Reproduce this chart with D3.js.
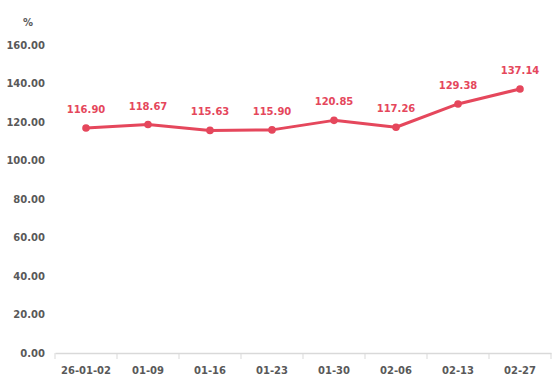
<!DOCTYPE html>
<html><head><meta charset="utf-8">
<script src="https://cdn.jsdelivr.net/npm/d3@7"></script>
<style>body{margin:0;background:#fff}</style>
</head><body><svg id="c" width="554" height="384"></svg>
<script>
const categories = ["26-01-02","01-09","01-16","01-23","01-30","02-06","02-13","02-27"];
const values = [116.90,118.67,115.63,115.90,120.85,117.26,129.38,137.14];
const yTicks = [0,20,40,60,80,100,120,140,160];
const unit = "%";

const svg = d3.select("#c");
const font = "DejaVu Sans, sans-serif";
const x = d3.scaleBand().domain(categories).range([55,551]);
const y = d3.scaleLinear().domain([0,160]).range([353,45]);
const red = "#e5475c";

// y labels
svg.selectAll(".yl").data(yTicks).enter().append("text")
  .attr("x",45).attr("y",d=>y(d)).attr("dy","0.35em")
  .attr("text-anchor","end").attr("font-family",font).attr("font-weight","bold")
  .attr("font-size","10px").attr("fill","#595959").text(d=>d.toFixed(2));
svg.append("text").attr("x",23).attr("y",26).attr("font-family",font).attr("font-weight","bold")
  .attr("font-size","10px").attr("fill","#595959").text(unit);

// x axis
const xa = svg.append("g").attr("transform","translate(0,353)")
  .call(d3.axisBottom(x).tickSize(0).tickPadding(14));
xa.select(".domain").attr("stroke","#d9d9d9").attr("stroke-width",1.5);
xa.selectAll("text").attr("font-family",font).attr("font-weight","bold")
  .attr("font-size","10px").attr("fill","#595959");
const bounds = categories.map(c=>x(c)).concat([x.range()[1]]);
svg.selectAll(".xt").data(bounds).enter().append("line")
  .attr("x1",d=>d).attr("x2",d=>d).attr("y1",353).attr("y2",359)
  .attr("stroke","#d9d9d9").attr("stroke-width",1);

const cx = d=>x(d)+x.bandwidth()/2;
const line = d3.line().x((d,i)=>cx(categories[i])).y(d=>y(d));
svg.append("path").datum(values).attr("d",line).attr("fill","none")
  .attr("stroke",red).attr("stroke-width",3).attr("stroke-linejoin","round");
svg.selectAll(".pt").data(values).enter().append("circle")
  .attr("cx",(d,i)=>cx(categories[i])).attr("cy",d=>y(d)).attr("r",3.8).attr("fill",red);
svg.selectAll(".dl").data(values).enter().append("text")
  .attr("x",(d,i)=>cx(categories[i])).attr("y",d=>y(d)-15)
  .attr("text-anchor","middle").attr("font-family",font).attr("font-weight","bold")
  .attr("font-size","10px").attr("fill",red).text(d=>d.toFixed(2));
</script></body></html>
